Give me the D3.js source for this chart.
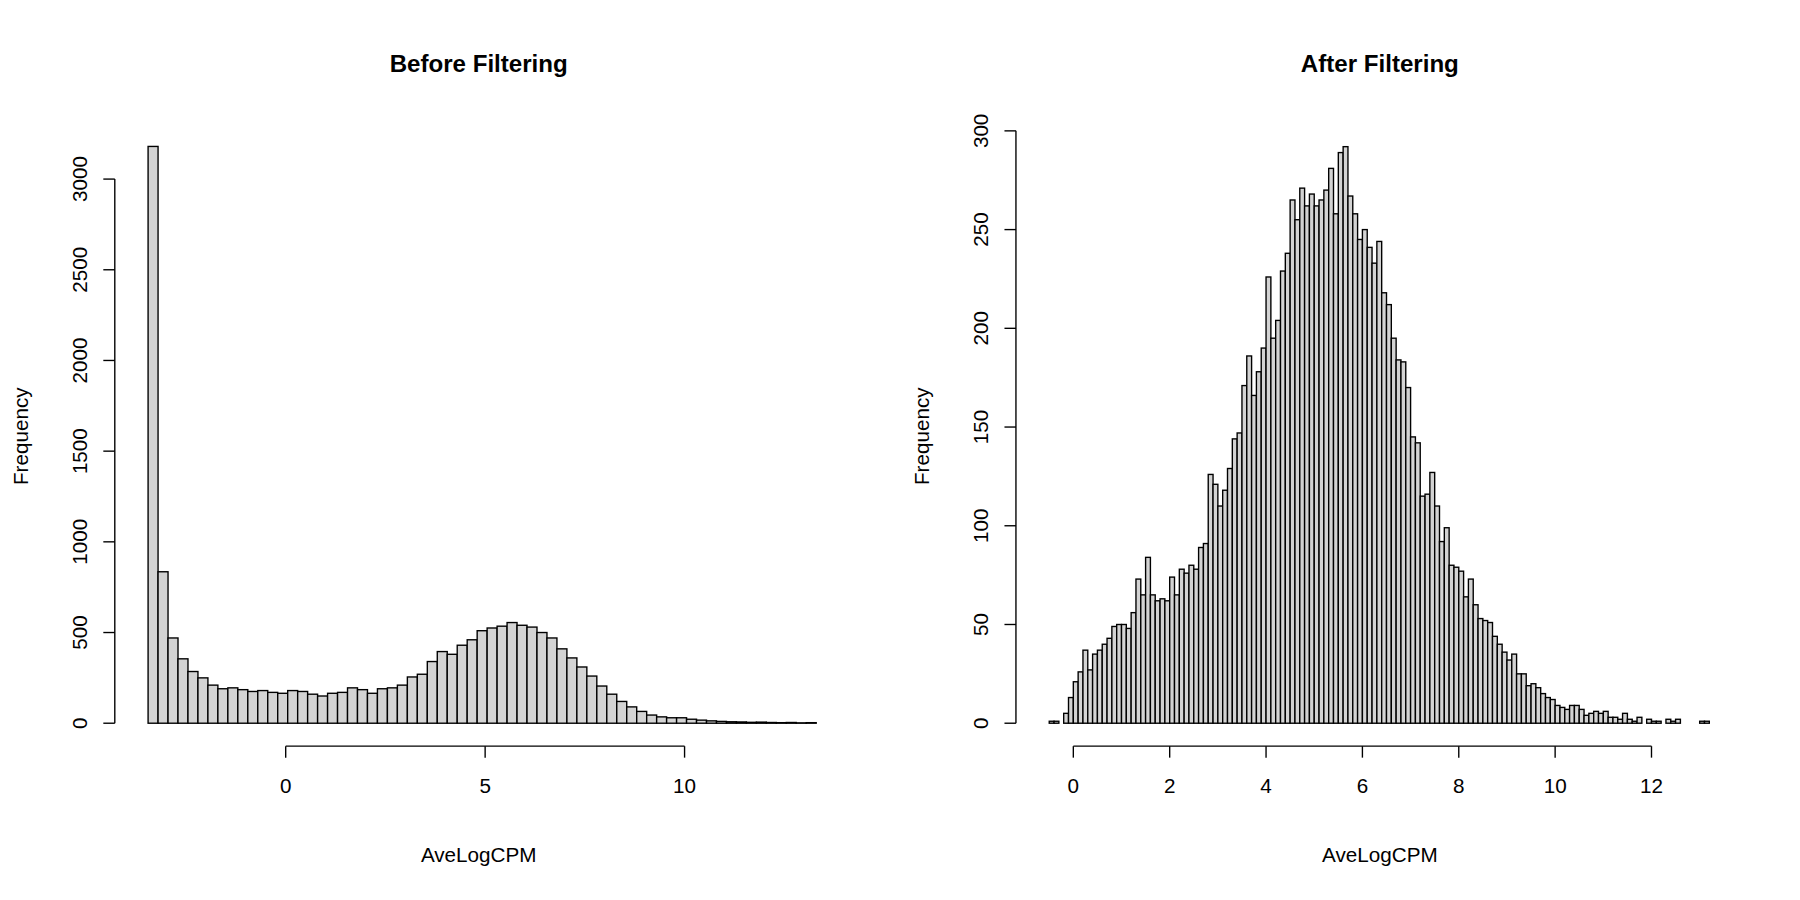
<!DOCTYPE html>
<html><head><meta charset="utf-8">
<script src="https://cdnjs.cloudflare.com/ajax/libs/d3/7.8.5/d3.min.js"></script>
<style>body{margin:0;background:#fff}text{font-family:"Liberation Sans",Arial,sans-serif;fill:#000}</style>
</head><body>
<svg id="c" width="1800" height="900"></svg>
<script>
// bin counts, start break + bin width
var before = {start:-3.45, width:0.25, counts:[
    3180,835,470,355,285,250,210,190,195,185,175,180,170,165,
    180,175,160,150,165,170,195,185,165,190,195,210,255,270,340,395,380,430,460,510,525,535,
    555,540,530,500,470,410,360,310,260,205,160,120,90,65,45,35,30,30,22,17,13,10,8,7,5,6,4,3,4,2,3]};
var after = {start:-0.5, width:0.1, counts:[
    1,1,0,5,13,21,26,37,27,35,37,40,43,49,50,50,48,56,73,65,84,65,62,63,62,74,65,78,76,80,
    78,89,91,126,121,110,118,129,144,147,171,186,166,178,190,226,195,204,229,238,265,255,271,262,268,
    262,265,270,281,258,289,292,267,258,245,250,241,233,244,218,212,195,184,183,170,145,142,115,116,127,
    110,92,99,80,79,77,64,73,60,53,52,51,44,40,36,32,35,25,25,19,20,18,15,13,12,9,8,7,9,9,
    7,4,5,6,5,6,3,3,2,5,2,1,3,0,2,1,1,0,2,1,2,0,0,0,0,1,1]};

// layout was measured on a 1568-wide copy, scale it up to the 1800 page
var svg = d3.select('#c').append('g').attr('transform','scale(' + (1800/1568) + ')');

function hist(cfg){
    var g = svg.append('g');
    var x = d3.scaleLinear().domain(cfg.xDomain).range(cfg.xRange);
    var y = d3.scaleLinear().domain(cfg.yDomain).range([630, cfg.yTop]);
    var bins = cfg.data.counts.map(function(c,i){
        var x0 = cfg.data.start + i*cfg.data.width;
        return {x0:x0, x1:x0+cfg.data.width, n:c};
    });
    g.selectAll('rect').data(bins).enter().append('rect')
        .attr('x', function(d){ return x(d.x0); })
        .attr('width', function(d){ return x(d.x1)-x(d.x0); })
        .attr('y', function(d){ return y(d.n); })
        .attr('height', function(d){ return 630-y(d.n); })
        .attr('fill','#d3d3d3').attr('stroke','#000').attr('stroke-width',1.2);

    // x axis, R style: line spans first..last tick
    var xt = cfg.xTicks;
    var xa = g.append('g').attr('transform','translate(0,650)');
    xa.append('line').attr('x1',x(xt[0])).attr('x2',x(xt[xt.length-1])).attr('stroke','#000').attr('stroke-width',1.2);
    xa.selectAll('.t').data(xt).enter().append('line')
        .attr('x1',x).attr('x2',x).attr('y1',0).attr('y2',10).attr('stroke','#000').attr('stroke-width',1.2);
    xa.selectAll('text').data(xt).enter().append('text')
        .attr('x',x).attr('y',41).attr('text-anchor','middle').style('font-size','18px').text(function(d){return d;});

    var yt = cfg.yTicks;
    var ya = g.append('g').attr('transform','translate('+cfg.yAxisX+',0)');
    ya.append('line').attr('y1',y(yt[0])).attr('y2',y(yt[yt.length-1])).attr('stroke','#000').attr('stroke-width',1.2);
    ya.selectAll('.t').data(yt).enter().append('line')
        .attr('y1',y).attr('y2',y).attr('x1',0).attr('x2',-10).attr('stroke','#000').attr('stroke-width',1.2);
    ya.selectAll('text').data(yt).enter().append('text')
        .attr('transform',function(d){ return 'translate(-24,'+y(d)+') rotate(-90)'; })
        .attr('text-anchor','middle').style('font-size','18px').text(function(d){return d;});

    var cx = cfg.center;
    g.append('text').attr('x',cx).attr('y',63).attr('text-anchor','middle')
        .style('font-size','21px').style('font-weight','bold').text(cfg.title);
    g.append('text').attr('x',cx).attr('y',751).attr('text-anchor','middle').style('font-size','18px').text('AveLogCPM');
    g.append('text').attr('transform','translate('+(cfg.yAxisX-76)+',380) rotate(-90)')
        .attr('text-anchor','middle').style('font-size','18px').text('Frequency');
}

hist({data:before, title:'Before Filtering', xDomain:[-3.45,13.3], xRange:[129,711],
      yDomain:[0,3000], yTop:156, xTicks:[0,5,10], yTicks:[0,500,1000,1500,2000,2500,3000],
      yAxisX:100, center:417});
hist({data:after, title:'After Filtering', xDomain:[-0.5,13.2], xRange:[914,1489],
      yDomain:[0,300], yTop:114, xTicks:[0,2,4,6,8,10,12], yTicks:[0,50,100,150,200,250,300],
      yAxisX:885, center:1202});
</script>
</body></html>
